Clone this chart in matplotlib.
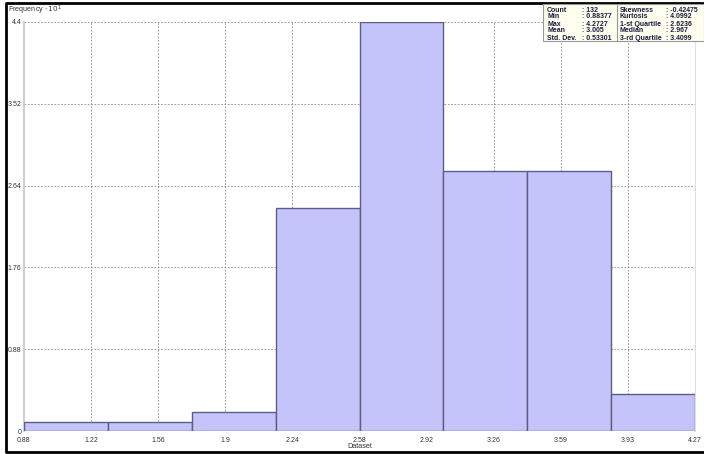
import matplotlib
matplotlib.use("Agg")
import matplotlib.pyplot as plt
import numpy as np
from matplotlib.patches import Rectangle

# datos del histograma
data_min = 0.88377
data_max = 4.2727
counts = [1, 1, 2, 24, 44, 28, 28, 4]
scale = 10.0  # eje en unidades de 10^1

x_ticks = [0.88, 1.22, 1.56, 1.9, 2.24, 2.58, 2.92, 3.26, 3.59, 3.93, 4.27]
y_ticks = [0, 0.88, 1.76, 2.64, 3.52, 4.4]

stats_left = [("Count", ": 132"), ("Min", ": 0.88377"), ("Max", ": 4.2727"),
              ("Mean", ": 3.005"), ("Std. Dev.", ": 0.53301")]
stats_right = [("Skewness", ": -0.42475"), ("Kurtosis", ": 4.0992"),
               ("1-st Quartile", ": 2.6236"), ("Median", ": 2.967"),
               ("3-rd Quartile", ": 3.4099")]

plt.rcParams["font.family"] = ["Liberation Sans", "DejaVu Sans"]

W, H = 704, 454
fig = plt.figure(figsize=(W / 100, H / 100), dpi=100)
ax = fig.add_axes([24 / W, 1 - 431 / H, (695 - 24) / W, (431 - 22) / H])

edges = np.linspace(data_min, data_max, len(counts) + 1)
heights = np.array(counts) / scale
ax.bar(edges[:-1], heights, width=np.diff(edges), align="edge",
       color="#c4c4fa", edgecolor="#5c5c86", linewidth=1.0, zorder=3)

ax.set_xlim(data_min, data_max)
ax.set_ylim(0, 4.4)
ax.set_xticks(np.linspace(data_min, data_max, len(x_ticks)))
ax.set_xticklabels([f"{t:g}" for t in x_ticks])
ax.set_yticks(y_ticks)
ax.set_yticklabels([f"{t:g}" for t in y_ticks])
ax.tick_params(labelsize=5, colors="#333333", length=0)
ax.tick_params(axis="y", pad=2)
ax.tick_params(axis="x", pad=4)
ax.grid(True, color="#888888", linestyle=(0, (2, 2)), linewidth=0.6, zorder=0)
for side in ["top", "bottom"]:
    ax.spines[side].set_visible(False)
ax.spines["left"].set_color("#d0d0d0")
ax.spines["left"].set_linewidth(1.5)
ax.spines["right"].set_color("#e0e0e0")
ax.spines["right"].set_linewidth(0.8)

fig.text(360 / W, 1 - 447 / H, "Dataset", fontsize=5.2, ha="center", va="center", color="#333333")
fig.text(8 / W, 1 - 10 / H, r"Frequency $\cdot\,10^{1}$", fontsize=5.2, ha="left", va="center", color="#333333")

# marco exterior: izquierda, arriba y abajo
frame_x = [W, 6, 6, W]
frame_y = [3, 3, 452, 452]
fig.lines.append(plt.Line2D([x / W for x in frame_x], [1 - y / H for y in frame_y],
                            transform=fig.transFigure, color="black", linewidth=2.0, zorder=0))

# caja de estadisticas
fig.patches.append(Rectangle((543 / W, 1 - 41 / H), (704 - 543) / W, (41 - 4) / H,
                             transform=fig.transFigure, facecolor="#fffff0",
                             edgecolor="#999999", linewidth=0.8, zorder=5))
fig.lines.append(plt.Line2D([617 / W, 617 / W], [1 - 40 / H, 1 - 5 / H],
                            transform=fig.transFigure, color="#999999", linewidth=0.8, zorder=6))
for i, ((l1, v1), (l2, v2)) in enumerate(zip(stats_left, stats_right)):
    y = 1 - (10 + i * 7) / H
    kw = dict(fontsize=5, fontweight="bold", va="center", ha="left",
              color="#1a1a40", zorder=7)
    fig.text(547 / W, y, l1, **kw)
    fig.text(582 / W, y, v1, **kw)
    fig.text(620 / W, y, l2, **kw)
    fig.text(666 / W, y, v2, **kw)

fig.savefig("out.png", dpi=100)
